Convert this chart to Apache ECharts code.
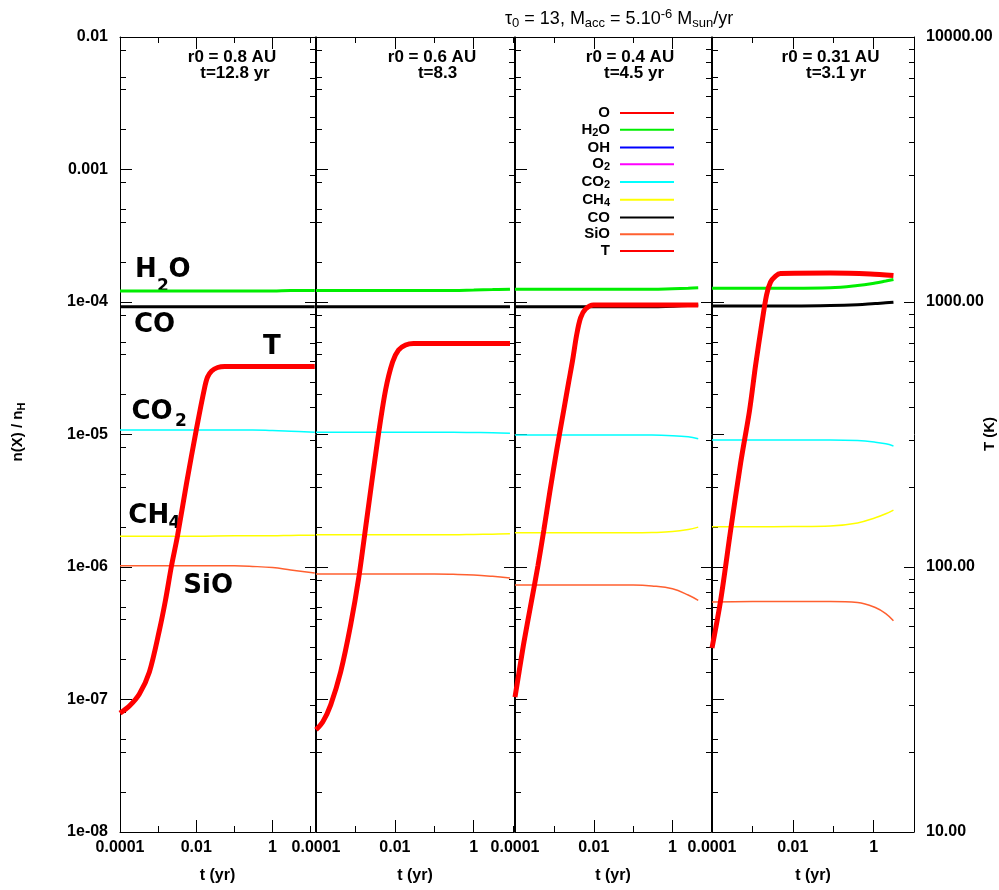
<!DOCTYPE html>
<html><head><meta charset="utf-8">
<script src="https://cdn.jsdelivr.net/npm/echarts@6/dist/echarts.min.js"></script>
<style>html,body{margin:0;padding:0;background:#fff}#c{width:999px;height:890px}</style>
</head><body><div id="c"></div>
<script>
// ---------------- DATA ----------------
const speciesNames = ['O','H2O','OH','O2','CO2','CH4','CO','SiO','T'];
const panelR0 = ['r0 = 0.8 AU','r0 = 0.6 AU','r0 = 0.4 AU','r0 = 0.31 AU'];
const panelTime = ['t=12.8 yr','t=8.3','t=4.5 yr','t=3.1 yr'];
const xTickValues = [1e-4, 1e-2, 1];
const xTickLabels = ['0.0001','0.01','1'];
const nTickValues = [1e-8,1e-7,1e-6,1e-5,1e-4,1e-3,1e-2];
const nTickLabels = ['1e-08','1e-07','1e-06','1e-05','1e-04','0.001','0.01'];
const TTickValues = [10,100,1000,10000];
const TTickLabels = ['10.00','100.00','1000.00','10000.00'];
const xMax = [13, 10.5, 9.5, 10];

// Panel 1 : r0 = 0.8 AU
const p1_t   = [1e-4, 1e-3, 1e-2, 0.1, 0.3, 1, 3, 12.8];
const p1_H2O = [1.21e-4,1.21e-4,1.21e-4,1.21e-4,1.21e-4,1.21e-4,1.22e-4,1.22e-4];
const p1_CO  = [9.2e-5,9.2e-5,9.2e-5,9.2e-5,9.2e-5,9.2e-5,9.2e-5,9.2e-5];
const p1_CO2 = [1.08e-5,1.08e-5,1.08e-5,1.08e-5,1.08e-5,1.07e-5,1.06e-5,1.04e-5];
const p1_CH4 = [1.71e-6,1.71e-6,1.71e-6,1.72e-6,1.72e-6,1.72e-6,1.73e-6,1.74e-6];
const p1_SiO = [1.02e-6,1.02e-6,1.02e-6,1.02e-6,1.01e-6,0.99e-6,0.95e-6,0.90e-6];
const p1_tT  = [1e-4,1.76e-4,3.22e-4,5.9e-4,1.08e-3,1.56e-3,2.24e-3,3.22e-3,5.56e-3,1.0e-2,1.65e-2,1.98e-2,2.53e-2,3.64e-2,5.56e-2,12.8];
const p1_T   = [28.1,29.9,33.2,40.2,57.8,75.0,101,131,207,329,474,521,549,566,571,571];

// Panel 2 : r0 = 0.6 AU
const p2_t   = [1e-4, 1e-3, 1e-2, 0.1, 0.3, 1, 3, 8.3];
const p2_H2O = [1.22e-4,1.22e-4,1.22e-4,1.22e-4,1.22e-4,1.23e-4,1.24e-4,1.25e-4];
const p2_CO  = [9.2e-5,9.2e-5,9.2e-5,9.2e-5,9.2e-5,9.2e-5,9.2e-5,9.2e-5];
const p2_CO2 = [1.04e-5,1.04e-5,1.04e-5,1.04e-5,1.04e-5,1.035e-5,1.03e-5,1.02e-5];
const p2_CH4 = [1.75e-6,1.75e-6,1.75e-6,1.75e-6,1.75e-6,1.76e-6,1.77e-6,1.78e-6];
const p2_SiO = [8.85e-7,8.85e-7,8.85e-7,8.85e-7,8.8e-7,8.7e-7,8.5e-7,8.26e-7];
const p2_tT  = [1e-4,1.48e-4,2.36e-4,4.22e-4,7.55e-4,1.21e-3,1.92e-3,3.65e-3,5.82e-3,8.75e-3,1.24e-2,1.87e-2,2.97e-2,8.3];
const p2_T   = [24.3,26.0,30.2,40.2,60.4,90.9,150,301,466,594,659,688,697,697];

// Panel 3 : r0 = 0.4 AU
const p3_t   = [1e-4, 1e-3, 1e-2, 0.1, 0.3, 1, 2.5, 4.5];
const p3_H2O = [1.25e-4,1.25e-4,1.25e-4,1.25e-4,1.25e-4,1.26e-4,1.27e-4,1.28e-4];
const p3_CO  = [9.2e-5,9.2e-5,9.2e-5,9.2e-5,9.2e-5,9.3e-5,9.4e-5,9.5e-5];
const p3_CO2 = [9.9e-6,9.9e-6,9.9e-6,9.9e-6,9.9e-6,9.8e-6,9.6e-6,9.3e-6];
const p3_CH4 = [1.81e-6,1.81e-6,1.81e-6,1.81e-6,1.82e-6,1.85e-6,1.92e-6,2.0e-6];
const p3_SiO = [7.31e-7,7.31e-7,7.31e-7,7.31e-7,7.2e-7,6.85e-7,6.15e-7,5.6e-7];
const p3_tT  = [1e-4,1.27e-4,1.69e-4,2.54e-4,3.82e-4,5.41e-4,7.66e-4,1.15e-3,1.73e-3,2.31e-3,2.91e-3,3.67e-3,4.62e-3,6.18e-3,9.83e-3,4.5];
const p3_T   = [32.3,40.2,52.1,72.5,101,138,192,277,391,499,604,750,871,941,975,975];

// Panel 4 : r0 = 0.31 AU
const p4_t   = [1e-4, 1e-3, 1e-2, 0.085, 0.4, 1.1, 2, 3.1];
const p4_H2O = [1.27e-4,1.27e-4,1.27e-4,1.28e-4,1.33e-4,1.39e-4,1.44e-4,1.48e-4];
const p4_CO  = [9.33e-5,9.33e-5,9.33e-5,9.4e-5,9.55e-5,9.75e-5,9.85e-5,9.95e-5];
const p4_CO2 = [9.1e-6,9.1e-6,9.1e-6,9.1e-6,9.0e-6,8.75e-6,8.5e-6,8.2e-6];
const p4_CH4 = [2.01e-6,2.01e-6,2.02e-6,2.04e-6,2.15e-6,2.35e-6,2.52e-6,2.69e-6];
const p4_SiO = [5.45e-7,5.5e-7,5.5e-7,5.5e-7,5.4e-7,4.95e-7,4.45e-7,3.93e-7];
const p4_tT  = [1e-4,1.64e-4,2.90e-4,5.12e-4,8.53e-4,1.20e-3,1.69e-3,2.24e-3,2.81e-3,3.74e-3,4.97e-3,8.51e-2,0.83,3.1];
const p4_T   = [49.5,75.0,138,247,391,578,819,1062,1189,1253,1281,1286,1276,1259];

// ---------------- LAYOUT / STYLE ----------------
const panels = [
  {t:p1_t, H2O:p1_H2O, CO:p1_CO, CO2:p1_CO2, CH4:p1_CH4, SiO:p1_SiO, tT:p1_tT, T:p1_T},
  {t:p2_t, H2O:p2_H2O, CO:p2_CO, CO2:p2_CO2, CH4:p2_CH4, SiO:p2_SiO, tT:p2_tT, T:p2_T},
  {t:p3_t, H2O:p3_H2O, CO:p3_CO, CO2:p3_CO2, CH4:p3_CH4, SiO:p3_SiO, tT:p3_tT, T:p3_T},
  {t:p4_t, H2O:p4_H2O, CO:p4_CO, CO2:p4_CO2, CH4:p4_CH4, SiO:p4_SiO, tT:p4_tT, T:p4_T}
];
const gridLeft = [120, 316, 515, 712];
const gridWidth = [195, 198, 196, 202];
const gridTop = 37, gridHeight = 795;
const r0X = [232, 432, 630, 830.5];
const tX  = [235, 437.5, 634, 836];
const F = 'Liberation Sans';
const style = {
  O:{color:'#ff0000', width:1.5}, H2O:{color:'#00ee00', width:3}, OH:{color:'#0000ff', width:1.5},
  O2:{color:'#ff00ff', width:1.5}, CO2:{color:'#00ffff', width:1.5}, CH4:{color:'#ffff00', width:1.5},
  CO:{color:'#000000', width:3}, SiO:{color:'#ff6030', width:1.5}, T:{color:'#ff0000', width:5}
};

function labelFor(v, values, labels) {
  for (let i = 0; i < values.length; i++) {
    if (Math.abs(Math.log10(v) - Math.log10(values[i])) < 1e-6) return labels[i];
  }
  return '';
}
function blk() { return {color:'#000', width:1}; }
const tickFont = {color:'#000', fontSize:16, fontWeight:'bold', fontFamily:F};
function noLine() { return {show:false, onZero:false}; }

const xAxes = [], yAxes = [], grids = [], series = [];
const nMinor = [], TMinor = [];
for (let e = -8; e < -2; e++) [2,4,5,8].forEach(m => nMinor.push(Math.log10(m) + e));
for (let e = 1; e < 4; e++) [2,3,4,5,6,7,8,9].forEach(m => TMinor.push(Math.log10(m) + e));

panels.forEach((P, p) => {
  grids.push({left:gridLeft[p], top:gridTop, width:gridWidth[p], height:gridHeight, containLabel:false, outerBoundsMode:'none'});
  const logMax = Math.log10(xMax[p]);
  // x axes: 0 main bottom, 1 long ticks bottom, 2 main top, 3 long ticks top
  xAxes.push({type:'log', gridIndex:p, min:1e-4, max:xMax[p], position:'bottom',
    axisLine:{show:true, onZero:false, lineStyle:blk()},
    axisTick:{show:true, inside:true, length:6, lineStyle:blk()},
    axisLabel:Object.assign({show:true, margin:8, formatter:v => labelFor(v, xTickValues, xTickLabels)}, tickFont),
    splitLine:{show:false}, minorTick:{show:false},
    name:'t (yr)', nameLocation:'middle', nameGap:36,
    nameTextStyle:{color:'#000', fontSize:16, fontWeight:'bold', fontFamily:F}});
  xAxes.push({type:'value', gridIndex:p, min:-4, max:logMax, position:'bottom',
    axisLine:noLine(), axisTick:{show:true, inside:true, length:12, customValues:[-4,-2,0], lineStyle:blk()},
    axisLabel:{show:false}, splitLine:{show:false}});
  xAxes.push({type:'log', gridIndex:p, min:1e-4, max:xMax[p], position:'top',
    axisLine:{show:true, onZero:false, lineStyle:blk()},
    axisTick:{show:true, inside:true, length:6, lineStyle:blk()},
    axisLabel:{show:false}, splitLine:{show:false}});
  xAxes.push({type:'value', gridIndex:p, min:-4, max:logMax, position:'top',
    axisLine:noLine(), axisTick:{show:true, inside:true, length:12, customValues:[-4,-2,0], lineStyle:blk()},
    axisLabel:{show:false}, splitLine:{show:false}});
  // y axes: 0 n main left, 1 n minor, 2 T main right, 3 T minor
  yAxes.push({type:'log', gridIndex:p, min:1e-8, max:1e-2, position:'left',
    axisLine:{show:true, onZero:false, lineStyle:blk()},
    axisTick:{show:true, inside:true, length:12, lineStyle:blk()},
    axisLabel:Object.assign({show:p===0, margin:12, formatter:v => labelFor(v, nTickValues, nTickLabels)}, tickFont),
    splitLine:{show:false}});
  yAxes.push({type:'value', gridIndex:p, min:-8, max:-2, position:'left',
    axisLine:noLine(), axisTick:{show:true, inside:true, length:6, customValues:nMinor, lineStyle:blk()},
    axisLabel:{show:false}, splitLine:{show:false}});
  yAxes.push({type:'log', gridIndex:p, min:10, max:10000, position:'right',
    axisLine:{show:true, onZero:false, lineStyle:blk()},
    axisTick:{show:true, inside:true, length:10, lineStyle:blk()},
    axisLabel:Object.assign({show:p===3, margin:12, formatter:v => labelFor(v, TTickValues, TTickLabels)}, tickFont),
    splitLine:{show:false}});
  yAxes.push({type:'value', gridIndex:p, min:1, max:4, position:'right',
    axisLine:noLine(), axisTick:{show:true, inside:true, length:5, customValues:TMinor, lineStyle:blk()},
    axisLabel:{show:false}, splitLine:{show:false}});

  const xi = p*4, yn = p*4, yT = p*4 + 2;
  if (p === 0) {
    ['O','OH','O2'].forEach(n => series.push({type:'line', name:n, xAxisIndex:xi, yAxisIndex:yn, data:[],
      symbol:'none', lineStyle:{color:style[n].color, width:style[n].width}, itemStyle:{color:style[n].color}}));
  }
  ['SiO','CH4','CO2','CO','H2O'].forEach(n => {
    series.push({type:'line', name:n, xAxisIndex:xi, yAxisIndex:yn,
      data:P.t.map((t, i) => [t, P[n][i]]), symbol:'none', showSymbol:false, smooth:0.4,
      lineStyle:{color:style[n].color, width:style[n].width}, itemStyle:{color:style[n].color}, z:2, silent:true});
  });
  series.push({type:'line', name:'T', xAxisIndex:xi, yAxisIndex:yT,
    data:P.tT.map((t, i) => [t, P.T[i]]), symbol:'none', showSymbol:false, smooth:0.3,
    lineStyle:{color:style.T.color, width:style.T.width}, itemStyle:{color:style.T.color}, z:5, silent:true});
});

function richName(name) {
  return name.split(/(\d+)/).filter(Boolean).map(s => /\d/.test(s) ? '{s|' + s + '}' : '{m|' + s + '}').join('');
}

const big = 'bold 26px "DejaVu Sans"', bigSub = 'bold 17px "DejaVu Sans"';
function txt(x, y, text, font, align) {
  return {type:'text', x:x, y:y, silent:true, style:{text:text, font:font, fill:'#000', align:align || 'left', verticalAlign:'middle'}};
}
const graphics = [
  txt(135, 270, 'H', big), txt(157, 287, '2', bigSub), txt(168.5, 270, 'O', big),
  txt(134, 325.5, 'CO', big),
  txt(263, 347.5, 'T', big),
  txt(131.5, 412.5, 'CO', big), txt(175, 421.5, '2', bigSub),
  txt(128.3, 516.7, 'CH', big), txt(168.5, 524, '4', bigSub),
  txt(183.3, 586.7, 'SiO', big),
  {type:'text', x:505, y:19, silent:true, style:{
    text:'{m|τ}{s|0}{m| = 13, M}{s|acc}{m| = 5.10}{p|-6}{m| M}{s|sun}{m|/yr}',
    align:'left', verticalAlign:'middle', fill:'#000',
    rich:{m:{fontSize:18, fontFamily:F, lineHeight:22, verticalAlign:'middle', fill:'#000'},
          s:{fontSize:13, fontFamily:F, lineHeight:13, verticalAlign:'bottom', fill:'#000'},
          p:{fontSize:13, fontFamily:F, lineHeight:6, verticalAlign:'top', fill:'#000'}}}},
  {type:'text', x:18, y:432, rotation:Math.PI/2, silent:true, style:{
    text:'{m|n(X) / n}{s|H}', align:'center', verticalAlign:'middle', fill:'#000',
    rich:{m:{fontSize:15, fontWeight:'bold', fontFamily:F, lineHeight:18, verticalAlign:'middle', fill:'#000'},
          s:{fontSize:11, fontWeight:'bold', fontFamily:F, lineHeight:6, verticalAlign:'bottom', fill:'#000'}}}},
  {type:'text', x:990, y:434, rotation:Math.PI/2, silent:true, style:{
    text:'T (K)', font:'bold 15px "Liberation Sans"', fill:'#000', align:'center', verticalAlign:'middle'}}
];
panelR0.forEach((s, i) => {
  graphics.push(txt(r0X[i], 57.5, s, 'bold 17px "Liberation Sans"', 'center'));
  graphics.push(txt(tX[i], 73, panelTime[i], 'bold 17px "Liberation Sans"', 'center'));
});

const chart = echarts.init(document.getElementById('c'), null, {renderer:'canvas'});
chart.setOption({
  animation:false,
  backgroundColor:'#fff',
  grid:grids,
  xAxis:xAxes,
  yAxis:yAxes,
  legend:{
    data:speciesNames, orient:'vertical', align:'right', right:324, top:105.5,
    itemWidth:54, itemHeight:12, itemGap:1.75, padding:0, selectedMode:false,
    itemStyle:{opacity:0, borderWidth:0},
    formatter:richName,
    textStyle:{color:'#000', padding:[0,5,0,0],
      rich:{m:{fontSize:15, fontWeight:'bold', fontFamily:F, lineHeight:17, verticalAlign:'middle', color:'#000'},
            s:{fontSize:11, fontWeight:'bold', fontFamily:F, lineHeight:6, verticalAlign:'bottom', color:'#000'}}}
  },
  series:series,
  graphic:graphics
});
</script></body></html>
